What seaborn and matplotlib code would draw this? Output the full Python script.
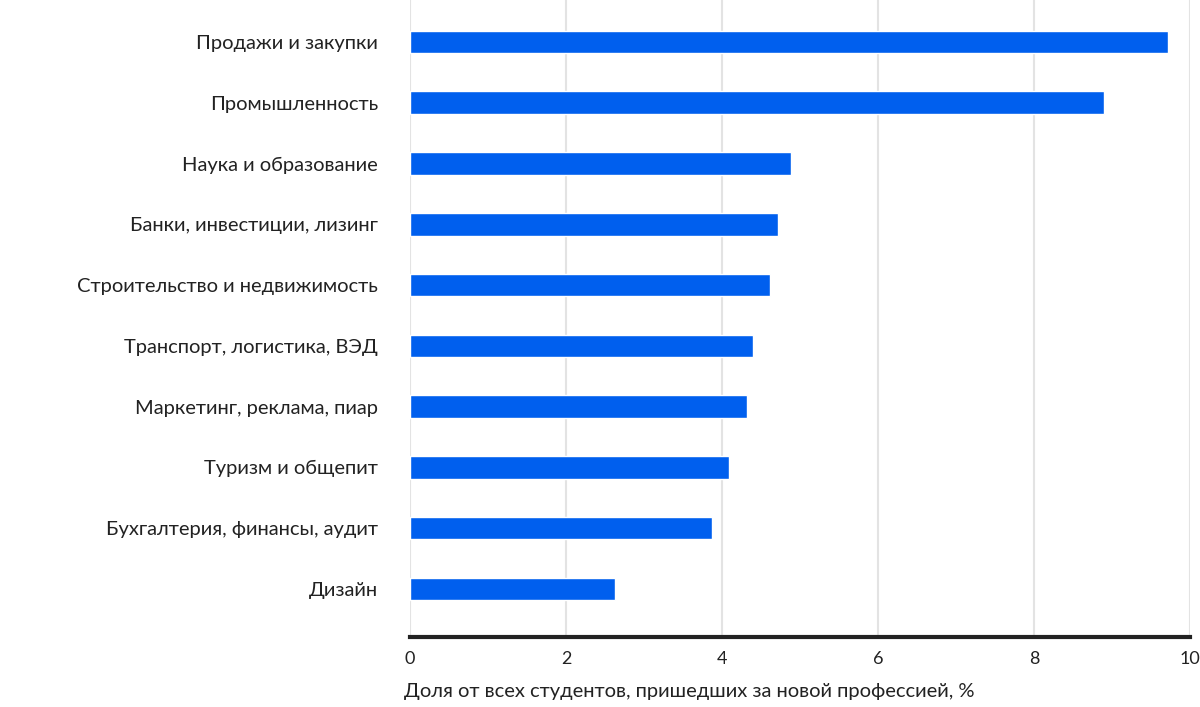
import matplotlib
matplotlib.use("Agg")
import matplotlib.pyplot as plt
import seaborn as sns
import pandas as pd

categories = [
    "Продажи и закупки",
    "Промышленность",
    "Наука и образование",
    "Банки, инвестиции, лизинг",
    "Строительство и недвижимость",
    "Транспорт, логистика, ВЭД",
    "Маркетинг, реклама, пиар",
    "Туризм и общепит",
    "Бухгалтерия, финансы, аудит",
    "Дизайн",
]
values = [9.72, 8.90, 4.88, 4.72, 4.62, 4.40, 4.32, 4.09, 3.87, 2.63]
xticks = [0, 2, 4, 6, 8, 10]
xlabel = "Доля от всех студентов, пришедших за новой профессией, %"

df = pd.DataFrame({"cat": categories, "val": values})

sns.set_theme(style="white")
plt.rcParams["font.family"] = ["Lato", "DejaVu Sans"]

fig = plt.figure(figsize=(12, 7.07), dpi=100)
ax = fig.add_axes([0.3417, 0.099, 0.65, 0.901])

sns.barplot(data=df, x="val", y="cat", orient="h", color="#005FEE",
            saturation=1, width=0.37, ax=ax)

ax.set_xlim(0, 10)
ax.set_ylim(9.79, -0.69)
ax.set_xticks(xticks)
ax.set_xticklabels([str(t) for t in xticks], fontsize=13, color="#222222")
ax.tick_params(axis="y", labelsize=14.5, colors="#222222", length=0, pad=23)
ax.tick_params(axis="x", length=0, pad=10)
ax.grid(axis="x", color="#e3e3e3", linewidth=1.5)
ax.set_axisbelow(True)
for s in ["top", "right", "left"]:
    ax.spines[s].set_visible(False)
ax.spines["bottom"].set_color("#222222")
ax.spines["bottom"].set_linewidth(3)
ax.set_ylabel("")
ax.set_xlabel(xlabel, fontsize=14.5, color="#222222")
ax.xaxis.set_label_coords(-0.008, -0.072)
ax.xaxis.label.set_horizontalalignment("left")

fig.savefig("out.png", dpi=100)
